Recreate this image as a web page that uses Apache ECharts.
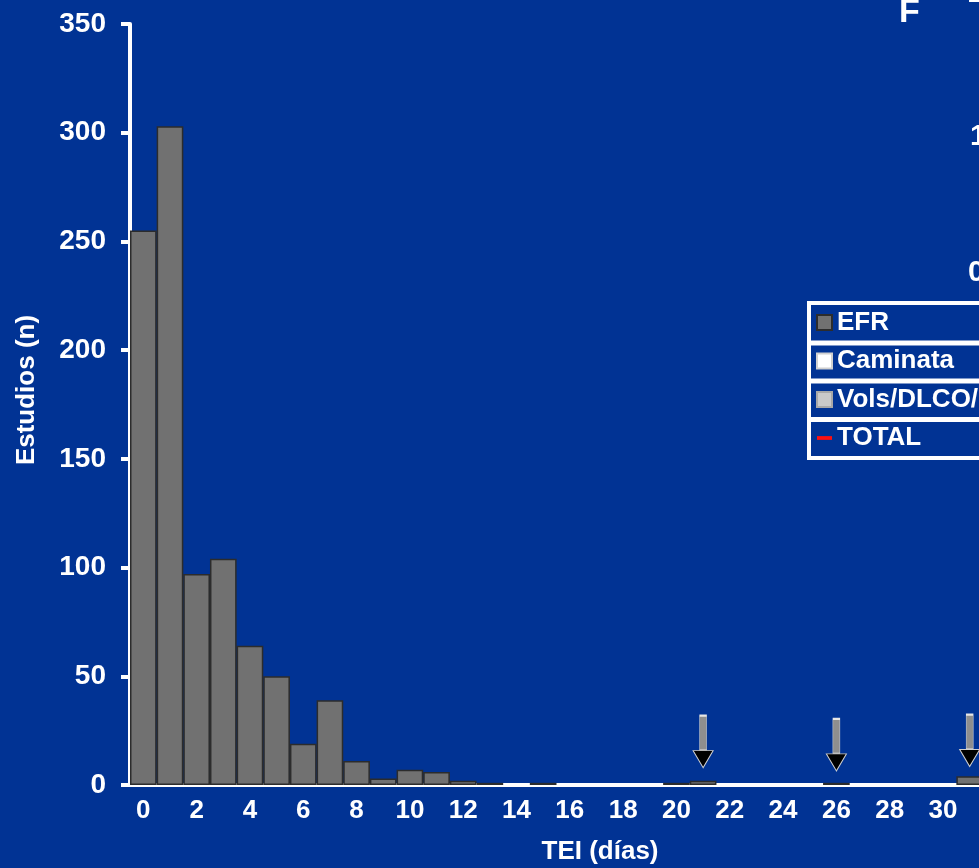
<!DOCTYPE html>
<html>
<head>
<meta charset="utf-8">
<script src="https://cdn.jsdelivr.net/npm/echarts@6/dist/echarts.min.js"></script>
<style>
  html, body { margin: 0; padding: 0; background: #013394; }
  #chart { width: 979px; height: 868px; }
</style>
</head>
<body>
<div id="chart"></div>
<script>
// días de TEI (0..31)
const days = ['0','1','2','3','4','5','6','7','8','9','10','11','12','13','14','15',
  '16','17','18','19','20','21','22','23','24','25','26','27','28','29','30','31'];
// número de estudios por día
const efrCounts = [255, 303, 97, 104, 64, 50, 19, 39, 11, 3, 7, 6, 2, 1, 0, 1,
  0, 0, 0, 0, 1, 2, 0, 0, 0, 0, 1, 0, 0, 0, 0, 4];
const legendNames = ['EFR', 'Caminata', 'Vols/DLCO/PIM', 'TOTAL'];
// flechas (día, altura de la punta)
const arrowDays = ['21', '26', '31'];
const arrowTips = [8, 6.5, 8.5];
const yTicks = [0, 50, 100, 150, 200, 250, 300, 350];

const chart = echarts.init(document.getElementById('chart'));
const white = '#ffffff';
const font = 'Arial, "Liberation Sans", sans-serif';

// marcas de flecha: cuerpo gris + punta negra
const arrowMarks = [];
arrowDays.forEach((d, i) => {
  arrowMarks.push({
    coord: [d, arrowTips[i]],
    symbol: 'rect',
    symbolSize: [7, 35],
    symbolOffset: [0, -34.5],
    itemStyle: { color: '#8e8e8e', borderColor: '#e6e6e6', borderWidth: 1 }
  });
  arrowMarks.push({
    coord: [d, arrowTips[i]],
    symbol: 'triangle',
    symbolRotate: 180,
    symbolSize: [20, 17],
    symbolOffset: [0, -8.5],
    itemStyle: { color: '#000000', borderColor: '#cfcfcf', borderWidth: 1 }
  });
});

const option = {
  backgroundColor: '#013394',
  animation: false,
  textStyle: { fontFamily: font },
  grid: { left: 130, top: 24, width: 853, height: 761, outerBoundsMode: 'none', containLabel: false },
  legend: {
    orient: 'vertical',
    left: 816,
    top: 309.5,
    padding: 0,
    itemGap: 12.5,
    itemWidth: 15,
    itemHeight: 15,
    selectedMode: false,
    data: [
      { name: legendNames[0], icon: 'rect' },
      { name: legendNames[1], icon: 'rect' },
      { name: legendNames[2], icon: 'rect' },
      { name: legendNames[3], icon: 'path://M0,0 L16,0 L16,4 L0,4 Z' }
    ],
    textStyle: { color: white, fontSize: 26, fontWeight: 'bold', lineHeight: 26, fontFamily: font }
  },
  xAxis: {
    type: 'category',
    data: days,
    boundaryGap: true,
    offset: 2,
    axisLine: { lineStyle: { color: white, width: 4 } },
    axisTick: { interval: 0, length: 10, lineStyle: { color: white, width: 3 } },
    axisLabel: { interval: 1, color: white, fontSize: 26, fontWeight: 'bold', margin: 11 },
    splitLine: { show: false }
  },
  yAxis: {
    type: 'value',
    min: 0,
    max: yTicks[yTicks.length - 1],
    interval: 50,
    axisLine: { show: true, lineStyle: { color: white, width: 4 } },
    axisTick: { show: true, length: 9, lineStyle: { color: white, width: 4 } },
    axisLabel: { color: white, fontSize: 28, fontWeight: 'bold', margin: 24 },
    splitLine: { show: false }
  },
  series: [
    {
      name: 'EFR',
      type: 'bar',
      stack: 'tei',
      // los días sin estudios no dibujan barra
      data: efrCounts.map(v => (v === 0 ? '-' : v)),
      barCategoryGap: 0,
      itemStyle: { color: '#717171', borderColor: '#2c2c2c', borderWidth: 1.5 },
      markPoint: {
        silent: true,
        label: { show: false },
        data: arrowMarks
      }
    },
    {
      name: 'Caminata',
      type: 'bar',
      stack: 'tei',
      data: [],
      itemStyle: { color: '#ffffff', borderColor: '#d0d0d0', borderWidth: 1 }
    },
    {
      name: 'Vols/DLCO/PIM',
      type: 'bar',
      stack: 'tei',
      data: [],
      itemStyle: { color: '#c9c9c9', borderColor: '#a8a8a8', borderWidth: 1 }
    },
    {
      name: 'TOTAL',
      type: 'line',
      data: [],
      symbol: 'none',
      itemStyle: { color: '#ff1010' },
      lineStyle: { color: '#ff1010', width: 4 }
    }
  ],
  graphic: [
    // caja de la leyenda
    { type: 'rect', shape: { x: 809, y: 303, width: 220, height: 155 },
      style: { fill: 'none', stroke: white, lineWidth: 4 }, z: 10 },
    { type: 'line', shape: { x1: 809, y1: 343, x2: 1000, y2: 343 }, style: { stroke: white, lineWidth: 5 }, z: 10 },
    { type: 'line', shape: { x1: 809, y1: 381, x2: 1000, y2: 381 }, style: { stroke: white, lineWidth: 5 }, z: 10 },
    { type: 'line', shape: { x1: 809, y1: 419.5, x2: 1000, y2: 419.5 }, style: { stroke: white, lineWidth: 5 }, z: 10 },
    // títulos de ejes
    { type: 'text', x: 27, y: 390, rotation: Math.PI / 2,
      style: { text: 'Estudios (n)', fill: white, font: 'bold 26px ' + font, textAlign: 'center', textVerticalAlign: 'middle' } },
    { type: 'text', x: 600, y: 852,
      style: { text: 'TEI (días)', fill: white, font: 'bold 26px ' + font, textAlign: 'center', textVerticalAlign: 'middle' } },
    // restos del gráfico vecino (cortado)
    { type: 'text', x: 899, y: 13,
      style: { text: 'F', fill: white, font: 'bold 34px ' + font, textAlign: 'left', textVerticalAlign: 'middle' } },
    { type: 'text', x: 968, y: -6,
      style: { text: '2', fill: white, font: 'bold 30px ' + font, textAlign: 'left', textVerticalAlign: 'middle' } },
    { type: 'text', x: 970, y: 137,
      style: { text: '1', fill: white, font: 'bold 30px ' + font, textAlign: 'left', textVerticalAlign: 'middle' } },
    { type: 'text', x: 968, y: 273,
      style: { text: '0', fill: white, font: 'bold 30px ' + font, textAlign: 'left', textVerticalAlign: 'middle' } }
  ]
};

chart.setOption(option);
</script>
</body>
</html>
